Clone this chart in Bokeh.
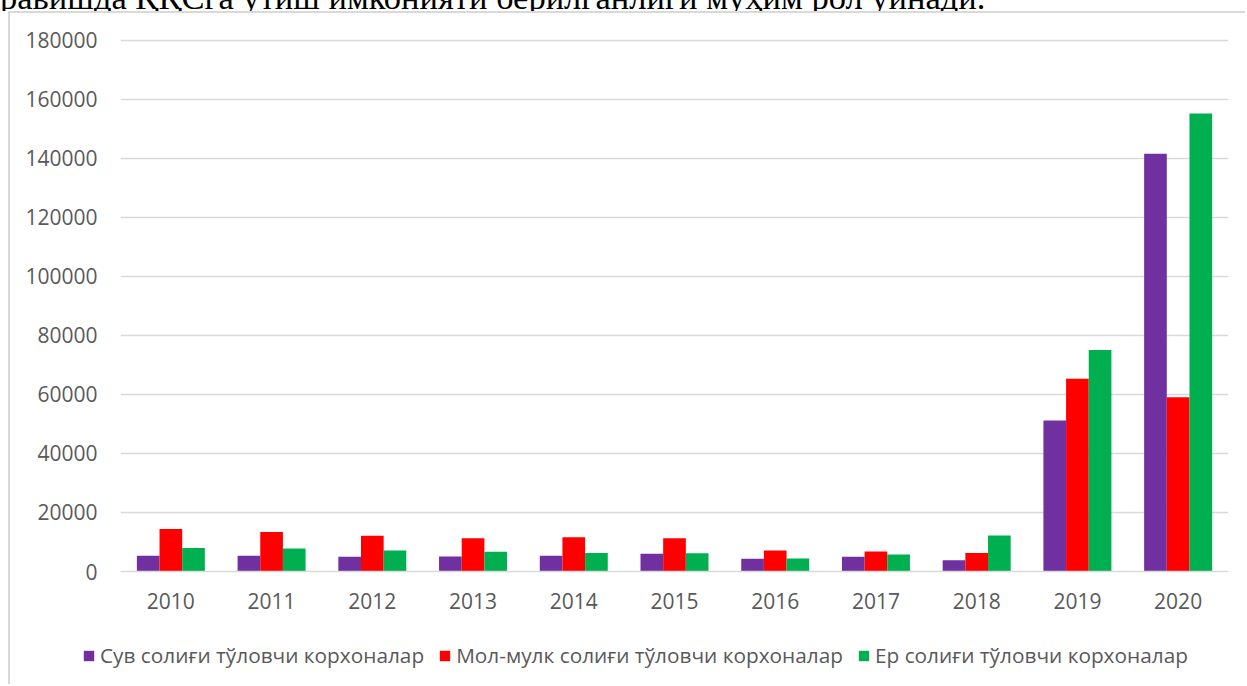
from bokeh.plotting import figure
from bokeh.models import (ColumnDataSource, FactorRange, Range1d, FixedTicker,
                          BasicTickFormatter, Legend, LegendItem, Div)
from bokeh.layouts import column
from bokeh.transform import dodge
from bokeh.embed import file_html
from bokeh.resources import INLINE

years = ["2010", "2011", "2012", "2013", "2014", "2015", "2016", "2017", "2018", "2019", "2020"]
water_tax = [5300, 5300, 5000, 5100, 5300, 6000, 4300, 5000, 3800, 51200, 141600]
property_tax = [14400, 13400, 12100, 11300, 11600, 11300, 7100, 6800, 6300, 65300, 59100]
land_tax = [8000, 7800, 7100, 6700, 6300, 6200, 4400, 5800, 12200, 75100, 155200]
series_names = ["Сув солиғи тўловчи корхоналар",
                "Мол-мулк солиғи тўловчи корхоналар",
                "Ер солиғи тўловчи корхоналар"]
y_ticks = [0, 20000, 40000, 60000, 80000, 100000, 120000, 140000, 160000, 180000]
top_text = "равишда ҚҚСга ўтиш имконияти берилганлиги муҳим рол ўйнади."

colors = ["#7030A0", "#FF0000", "#00B050"]
grey = "#d9d9d9"
label_grey = "#595959"
tick_font = "Open Sans"
src = ColumnDataSource(dict(year=years, water=water_tax, prop=property_tax, land=land_tax))

# ---- main chart ----
p = figure(x_range=FactorRange(factors=years, range_padding=0),
           y_range=Range1d(0, 181000),
           width=1237, height=617, output_backend="svg", toolbar_location=None,
           min_border_left=110, min_border_right=19, min_border_top=24, min_border_bottom=59,
           margin=(0, 0, 0, 8))
p.styles = {"border-left": f"2px solid {grey}", "border-top": f"2px solid {grey}"}
p.outline_line_color = None
p.background_fill_color = "white"
p.border_fill_color = "white"

bw = 0.225
keys = ["water", "prop", "land"]
offsets = [-bw, 0, bw]
for key, off, col in zip(keys, offsets, colors):
    p.vbar(x=dodge("year", off, range=p.x_range), top=key, width=bw, source=src,
           fill_color=col, line_color=None)

p.xaxis.axis_line_color = grey
p.xaxis.axis_line_width = 1.5
p.xaxis.major_tick_line_color = None
p.xaxis.minor_tick_line_color = None
p.xaxis.major_label_text_font = tick_font
p.xaxis.major_label_text_font_size = "21px"
p.xaxis.major_label_text_color = label_grey
p.xaxis.major_label_standoff = 15

p.yaxis.axis_line_color = None
p.yaxis.major_tick_line_color = None
p.yaxis.minor_tick_line_color = None
p.yaxis.ticker = FixedTicker(ticks=y_ticks)
p.yaxis.formatter = BasicTickFormatter(use_scientific=False)
p.yaxis.major_label_text_font = tick_font
p.yaxis.major_label_text_font_size = "21px"
p.yaxis.major_label_text_color = label_grey
p.yaxis.major_label_standoff = 17

p.xgrid.grid_line_color = None
p.ygrid.ticker = FixedTicker(ticks=y_ticks)
p.ygrid.grid_line_color = grey
p.ygrid.grid_line_width = 1.5

# ---- legend strip (separate root so its frame spans the whole strip) ----
# its y range lies far above the data, so its bars stay off-screen and only feed the legend
pl = figure(width=1237, height=56, x_range=FactorRange(factors=years),
            y_range=Range1d(1e7, 2e7),
            x_axis_type=None, y_axis_type=None, output_backend="svg",
            toolbar_location=None, min_border=0, min_border_left=0, min_border_right=0,
            min_border_top=0, min_border_bottom=0, margin=(0, 0, 0, 8))
pl.styles = {"border-left": f"2px solid {grey}"}
pl.outline_line_color = None
pl.background_fill_color = "white"
pl.border_fill_color = "white"
legend_renderers = [pl.vbar(x="year", top=key, width=0.001, source=src,
                            fill_color=col, line_color=None)
                    for key, col in zip(keys, colors)]

legend = Legend(items=[LegendItem(label=name, renderers=[r])
                       for name, r in zip(series_names, legend_renderers)],
                orientation="horizontal", location=(72, 15),
                glyph_width=13, glyph_height=13, label_standoff=5, spacing=14,
                padding=0, margin=0, border_line_color=None, background_fill_alpha=0,
                label_text_font=tick_font, label_text_font_size="20.8px",
                label_text_color=label_grey)
pl.add_layout(legend)

# ---- cropped line of document text above the chart ----
top = Div(text=('<div style="position:relative; top:-20.5px; font-family:\'Liberation Serif\';'
                ' font-size:34.5px; line-height:34px; white-space:nowrap; color:#000;">'
                + top_text + '</div>'),
          width=1247, height=11, margin=0,
          styles={"overflow": "hidden", "height": "11px", "max-height": "11px"})

layout = column(top, p, spacing=0)
open("out.html", "w").write(file_html([layout, pl], INLINE))
